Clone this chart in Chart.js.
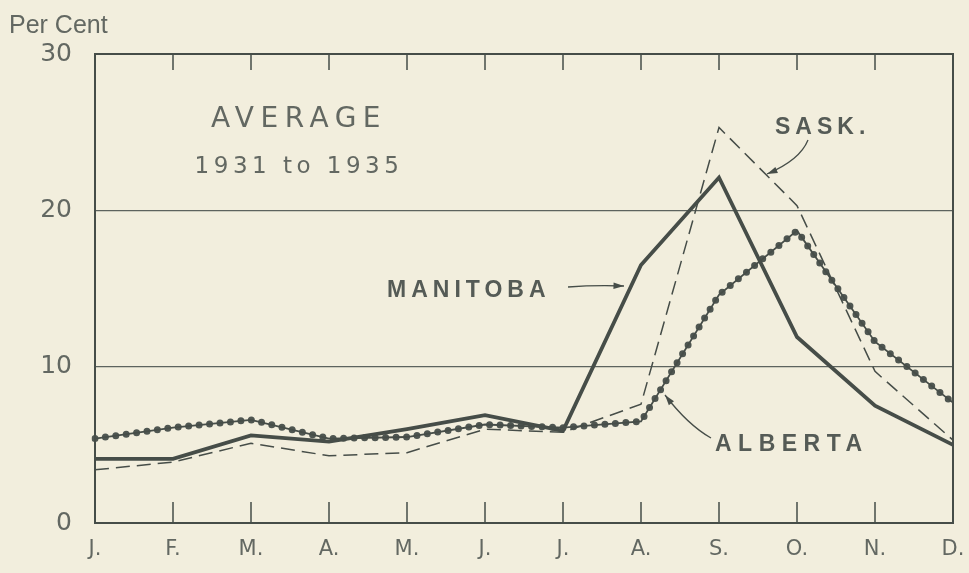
<!DOCTYPE html>
<html>
<head>
<meta charset="utf-8">
<script src="https://cdn.jsdelivr.net/npm/chart.js@4.4.1/dist/chart.umd.min.js"></script>
<style>
  html, body { margin: 0; padding: 0; background: #f2eedd; }
  #wrap { position: relative; width: 969px; height: 573px; }
</style>
</head>
<body>
<div id="wrap"><canvas id="chart" width="969" height="573"></canvas></div>
<script>
// ---- Data (per cent of yearly total, monthly average 1931-1935) ----
const months   = ['J.', 'F.', 'M.', 'A.', 'M.', 'J.', 'J.', 'A.', 'S.', 'O.', 'N.', 'D.'];
const manitoba = [4.1, 4.1, 5.6, 5.2, 6.0, 6.9, 5.9, 16.5, 22.1, 11.9, 7.5, 5.0];
const sask     = [3.4, 3.9, 5.1, 4.3, 4.5, 6.0, 5.8, 7.6, 25.3, 20.3, 9.7, 5.3];
const alberta  = [5.4, 6.1, 6.6, 5.4, 5.5, 6.3, 6.1, 6.5, 14.6, 18.7, 11.6, 7.7];
const yTicks   = [0, 10, 20, 30];

const INK  = '#464d48';
const TEXT = '#636862';

// ---- Frame, inward ticks and labels ----
const framePlugin = {
  id: 'frame',
  afterDraw(chart) {
    const { ctx, chartArea: a, scales: { x } } = chart;
    ctx.save();
    ctx.strokeStyle = INK;
    ctx.lineWidth = 2;
    ctx.strokeRect(a.left, a.top, a.right - a.left, a.bottom - a.top);

    // short ticks inside the frame, top and bottom
    ctx.lineWidth = 1.5;
    months.forEach((m, i) => {
      const px = x.getPixelForValue(i);
      ctx.beginPath();
      ctx.moveTo(px, a.top); ctx.lineTo(px, a.top + 16);
      ctx.moveTo(px, a.bottom); ctx.lineTo(px, a.bottom - 21);
      ctx.stroke();
    });

    // unit label
    ctx.fillStyle = TEXT;
    ctx.font = '25px "Liberation Sans", Arial, sans-serif';
    ctx.textAlign = 'left';
    ctx.textBaseline = 'alphabetic';
    ctx.fillText('Per Cent', 9, 33);

    // title
    ctx.textAlign = 'center';
    ctx.font = '28px "DejaVu Sans", sans-serif';
    ctx.letterSpacing = '6.5px';
    ctx.fillText('AVERAGE', 299, 127);
    ctx.font = '23px "DejaVu Sans", sans-serif';
    ctx.letterSpacing = '4.5px';
    ctx.fillText('1931 to 1935', 299, 173);

    // series labels
    ctx.fillStyle = '#555b56';
    ctx.font = 'bold 23px "Liberation Sans", Arial, sans-serif';
    ctx.letterSpacing = '5px';
    ctx.textAlign = 'left';
    ctx.fillText('SASK.', 775, 134);
    ctx.fillText('MANITOBA', 387, 297);
    ctx.letterSpacing = '6.5px';
    ctx.fillText('ALBERTA', 715, 451);
    ctx.letterSpacing = '0px';

    // arrows
    ctx.strokeStyle = INK;
    ctx.fillStyle = INK;
    ctx.lineWidth = 1.3;
    function arrow(pts, tip) {
      ctx.beginPath();
      ctx.moveTo(pts[0][0], pts[0][1]);
      ctx.quadraticCurveTo(pts[1][0], pts[1][1], tip[0], tip[1]);
      ctx.stroke();
      const ang = Math.atan2(tip[1] - pts[1][1], tip[0] - pts[1][0]);
      ctx.beginPath();
      ctx.moveTo(tip[0], tip[1]);
      ctx.lineTo(tip[0] - 11 * Math.cos(ang - 0.3), tip[1] - 11 * Math.sin(ang - 0.3));
      ctx.lineTo(tip[0] - 11 * Math.cos(ang + 0.3), tip[1] - 11 * Math.sin(ang + 0.3));
      ctx.closePath();
      ctx.fill();
    }
    arrow([[808, 140], [800, 160]], [767, 174]);
    arrow([[568, 287], [595, 285]], [624, 286]);
    arrow([[711, 438], [688, 425]], [665, 395]);
    ctx.restore();
  }
};

new Chart(document.getElementById('chart'), {
  type: 'line',
  data: {
    labels: months,
    datasets: [
      {
        label: 'Manitoba',
        data: manitoba,
        borderColor: INK,
        borderWidth: 3.8,
        pointRadius: 0,
        tension: 0
      },
      {
        label: 'Sask.',
        data: sask,
        borderColor: INK,
        borderWidth: 1.5,
        borderDash: [14, 7],
        pointRadius: 0,
        tension: 0
      },
      {
        label: 'Alberta',
        data: alberta,
        borderColor: INK,
        borderWidth: 1.8,
        pointRadius: 0,
        tension: 0
      },
      {
        label: 'Alberta beads',
        data: alberta,
        borderColor: '#4f5651',
        borderWidth: 7,
        borderDash: [0, 10.5],
        borderCapStyle: 'round',
        pointRadius: 0,
        tension: 0
      }
    ]
  },
  plugins: [framePlugin],
  options: {
    responsive: false,
    animation: false,
    layout: { padding: { left: 0, right: 16, top: 54, bottom: 0 } },
    plugins: { legend: { display: false }, tooltip: { enabled: false } },
    scales: {
      x: {
        offset: false,
        grid: { display: false, drawTicks: false },
        border: { display: false },
        ticks: {
          color: TEXT,
          font: { family: '"DejaVu Sans", sans-serif', size: 21 },
          padding: 14,
          maxRotation: 0,
          autoSkip: false
        },
        afterFit(s) { s.height = 50; s.paddingRight = 0; s.paddingLeft = 0; }
      },
      y: {
        min: 0,
        max: 30,
        afterBuildTicks(s) { s.ticks = yTicks.map(v => ({ value: v })); },
        grid: {
          color: ctx => (ctx.tick && (ctx.tick.value === 10 || ctx.tick.value === 20)) ? '#5d635e' : 'rgba(0,0,0,0)',
          lineWidth: 1.2,
          drawTicks: false
        },
        border: { display: false },
        ticks: {
          color: TEXT,
          font: { family: '"DejaVu Sans", sans-serif', size: 25 },
          padding: 23
        },
        afterFit(s) { s.width = 95; }
      }
    }
  }
});
</script>
</body>
</html>
